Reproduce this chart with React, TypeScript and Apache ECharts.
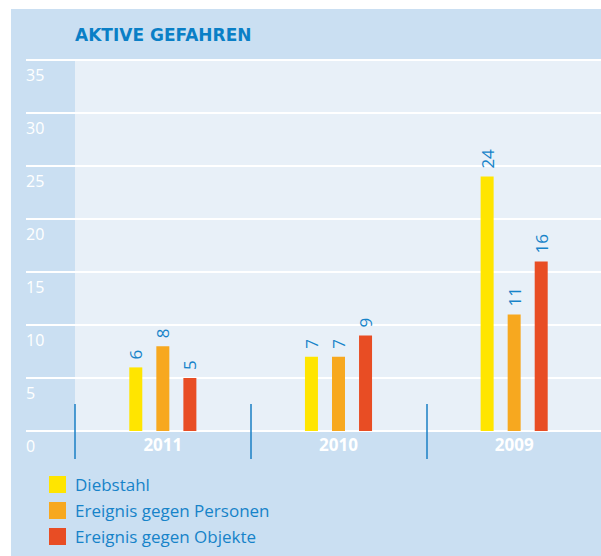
import React, { useEffect, useRef } from "react";
import * as echarts from "echarts";

const categories = ["2011", "2010", "2009"];
const diebstahl = [6, 7, 24];
const personen = [8, 7, 11];
const objekte = [5, 9, 16];
const seriesNames = ["Diebstahl", "Ereignis gegen Personen", "Ereignis gegen Objekte"];
const titleText = "AKTIVE GEFAHREN";

const FONT = "'Open Sans', 'DejaVu Sans', sans-serif";
const BLUE = "#1683c9";

export default function App() {
  const ref = useRef<HTMLDivElement>(null);
  useEffect(() => {
    if (!ref.current) return;
    const chart = echarts.init(ref.current, undefined, { renderer: "svg" });
    const label = {
      show: true,
      position: "top",
      rotate: 90,
      align: "left",
      verticalAlign: "middle",
      distance: 8,
      color: BLUE,
      fontSize: 17,
      fontFamily: FONT,
    };
    const mk = (name: string, data: number[], color: string) => ({
      name,
      type: "bar",
      data,
      barWidth: 13,
      barGap: "108%",
      itemStyle: { color },
      label,
      xAxisIndex: 0,
      yAxisIndex: 0,
      z: 5,
    });
    chart.setOption({
      animation: false,
      backgroundColor: "transparent",
      textStyle: { fontFamily: FONT },
      graphic: [
        {
          type: "rect",
          z: -100,
          shape: { x: 11, y: 9, width: 600, height: 560 },
          style: { fill: "#cadff2" },
          silent: true,
        },
      ],
      title: {
        text: titleText,
        left: 75,
        top: 26,
        padding: 0,
        textStyle: { color: "#0a7fc6", fontSize: 17, fontWeight: "bold", fontFamily: "'DejaVu Sans', sans-serif" },
      },
      legend: {
        orient: "vertical",
        left: 49,
        top: 476,
        itemWidth: 17,
        itemHeight: 17,
        itemGap: 9,
        icon: "rect",
        padding: 0,
        textStyle: { color: BLUE, fontSize: 17, fontFamily: FONT, padding: [0, 0, 0, 4] },
        data: seriesNames,
      },
      grid: {
        left: 75,
        width: 527,
        top: 60,
        bottom: 125,
        show: true,
        backgroundColor: "#e8f0f8",
        borderWidth: 0,
        containLabel: false,
        outerBoundsMode: "none",
      },
      xAxis: [
        {
          type: "category",
          data: categories,
          position: "bottom",
          axisLine: { show: false },
          axisTick: { show: true, length: 28, lineStyle: { color: "#1a7fc4", width: 1.5 } },
          axisLabel: {
            color: "#ffffff",
            fontWeight: "bold",
            fontSize: 17,
            fontFamily: FONT,
            margin: 5,
            verticalAlign: "top",
          },
          splitLine: { show: false },
        },
        {
          type: "category",
          data: categories,
          position: "bottom",
          axisLine: { show: false },
          axisTick: { show: true, inside: true, length: 27, lineStyle: { color: "#1a7fc4", width: 1.5 } },
          axisLabel: { show: false },
          splitLine: { show: false },
        },
      ],
      yAxis: {
        type: "value",
        min: 0,
        max: 35,
        interval: 5,
        axisLine: { show: false },
        axisTick: { show: true, length: 49, lineStyle: { color: "#ffffff", width: 2 } },
        splitLine: { show: true, lineStyle: { color: "#ffffff", width: 2 } },
        axisLabel: {
          color: "#ffffff",
          fontSize: 16,
          fontFamily: FONT,
          align: "left",
          margin: 49,
          verticalAlign: "top",
          lineHeight: 30,
        },
      },
      series: [
        mk(seriesNames[0], diebstahl, "#ffe500"),
        mk(seriesNames[1], personen, "#f7a81f"),
        mk(seriesNames[2], objekte, "#e84d24"),
      ],
    });
    return () => chart.dispose();
  }, []);
  return (
    <div
      ref={ref}
      style={{ position: "absolute", left: 0, top: 0, width: 601, height: 556 }}
    />
  );
}
